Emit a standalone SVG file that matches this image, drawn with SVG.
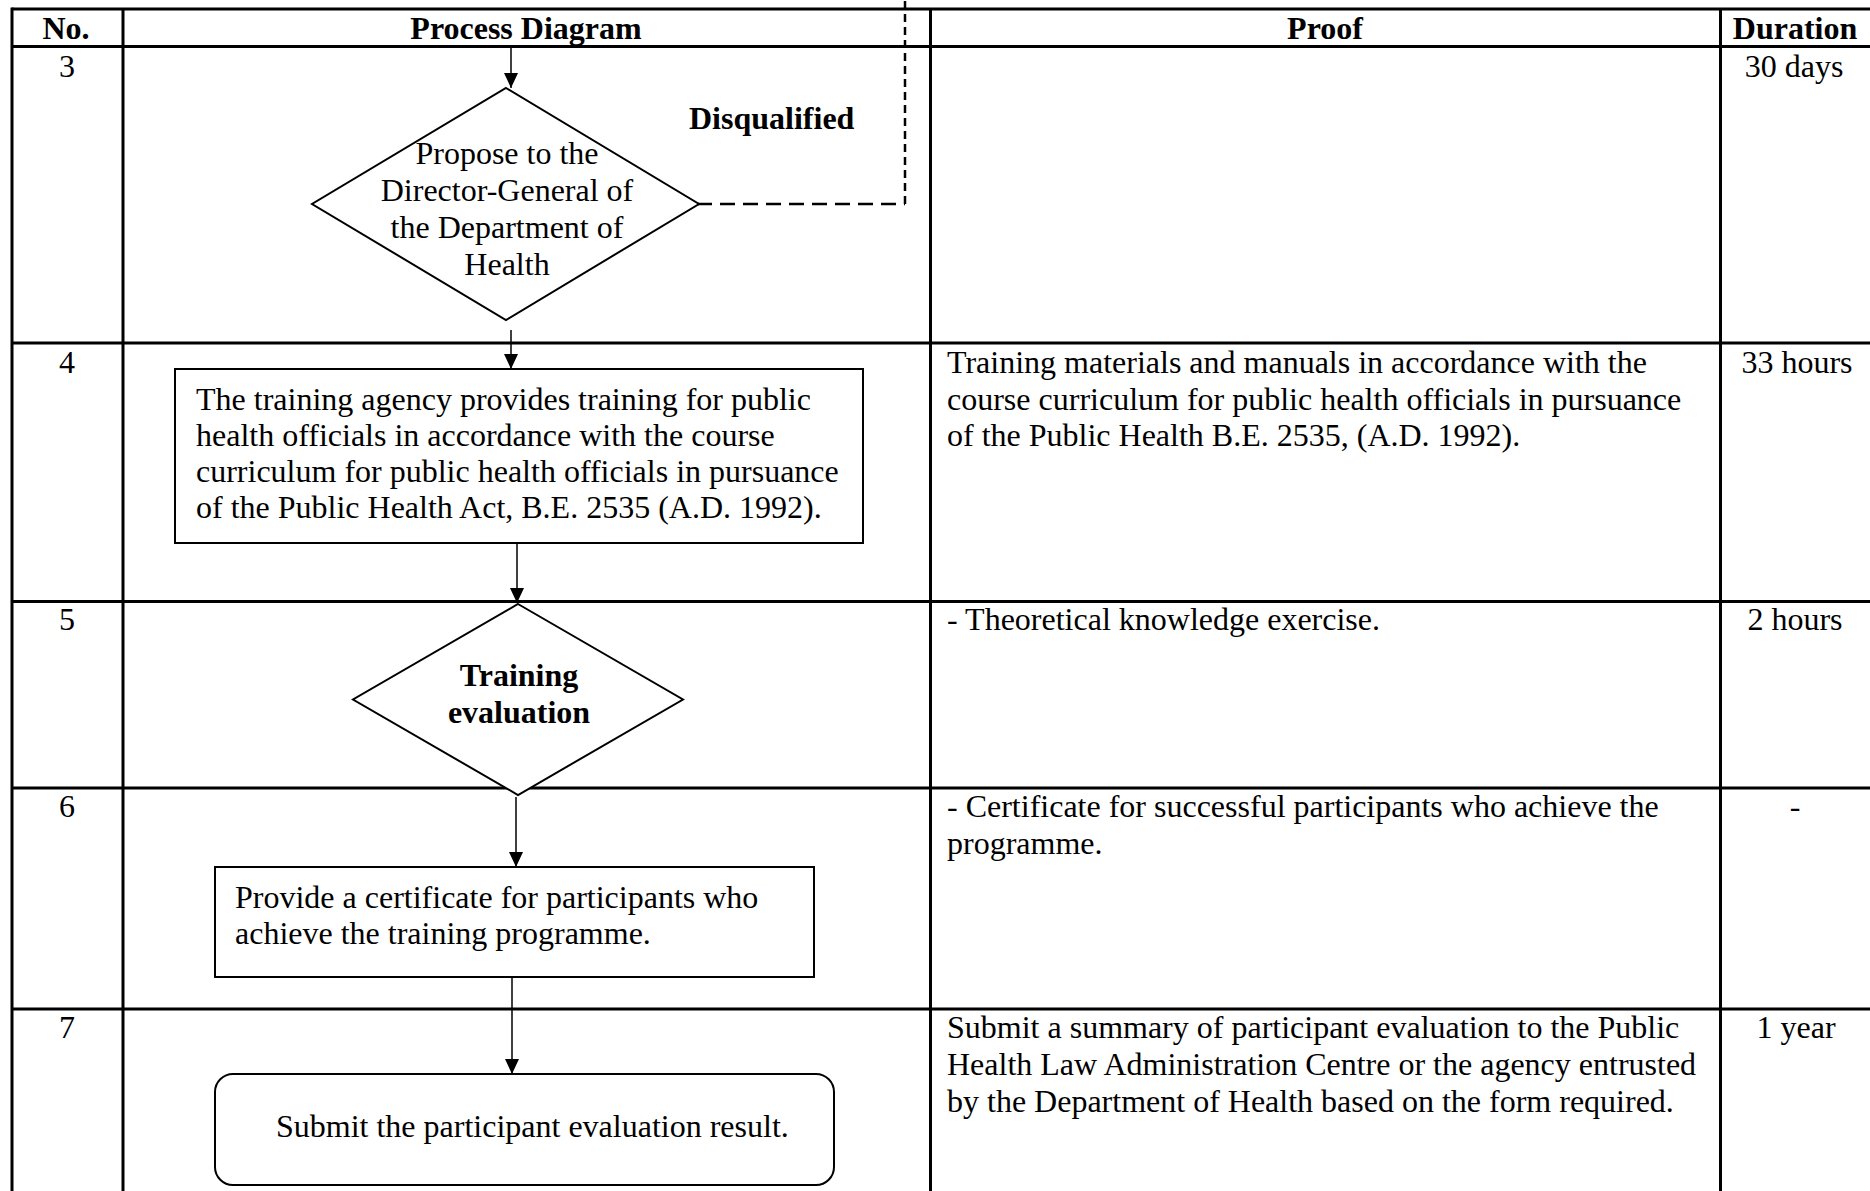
<svg xmlns="http://www.w3.org/2000/svg" width="1870" height="1191" viewBox="0 0 1870 1191">
<style>
text{font-family:"Liberation Serif","Times New Roman",serif;font-size:32px;fill:#000}
.b{font-weight:bold}
.c{text-anchor:middle}
.grid{stroke:#000;stroke-width:3;fill:none}
.node{fill:#fff;stroke:#000;stroke-width:2}
.conn{stroke:#000;stroke-width:1.5;fill:none}
.dash{stroke:#000;stroke-width:2.5;fill:none}
</style>
<defs>
<marker id="ah" markerUnits="userSpaceOnUse" markerWidth="15" markerHeight="14" refX="15" refY="7" orient="auto">
<path d="M0,0 L15,7 L0,14 z" fill="#000"/>
</marker>
</defs>
<rect x="0" y="0" width="1870" height="1191" fill="#fff"/>

<g id="table">
<path class="grid" d="M12,9 H1870 M12,46.5 H1870 M12,343 H1870 M12,601.5 H1870 M12,788 H1870 M12,1009 H1870"/>
<path class="grid" d="M12,7.5 V1191 M123,9 V1191 M930.5,9 V1191 M1720.5,9 V1191"/>
<text class="b c" x="66" y="39">No.</text>
<text class="b c" x="526" y="39">Process Diagram</text>
<text class="b c" x="1325" y="39">Proof</text>
<text class="b c" x="1795" y="39">Duration</text>
<text class="c" x="67" y="77">3</text>
<text class="c" x="1794" y="77">30 days</text>
<text class="c" x="67" y="373">4</text>
<text x="947" y="373">Training materials and manuals in accordance with the</text>
<text x="947" y="409.5">course curriculum for public health officials in pursuance</text>
<text x="947" y="446">of the Public Health B.E. 2535, (A.D. 1992).</text>
<text class="c" x="1797" y="373">33 hours</text>
<text class="c" x="67" y="630">5</text>
<text x="947" y="630">- Theoretical knowledge exercise.</text>
<text class="c" x="1795" y="630">2 hours</text>
<text class="c" x="67" y="817">6</text>
<text x="947" y="817">- Certificate for successful participants who achieve the</text>
<text x="947" y="853.5">programme.</text>
<text class="c" x="1795" y="817">-</text>
<text class="c" x="67" y="1038">7</text>
<text x="947" y="1038">Submit a summary of participant evaluation to the Public</text>
<text x="947" y="1075">Health Law Administration Centre or the agency entrusted</text>
<text x="947" y="1112">by the Department of Health based on the form required.</text>
<text class="c" x="1796" y="1038">1 year</text>
</g>

<g id="connectors">
<path class="conn" d="M511,48 V88" marker-end="url(#ah)"/>
<path class="conn" d="M511,330 V369" marker-end="url(#ah)"/>
<path class="conn" d="M517,543 V603" marker-end="url(#ah)"/>
<path class="conn" d="M516,797 V867" marker-end="url(#ah)"/>
<path class="conn" d="M512,977 V1074" marker-end="url(#ah)"/>
<path class="dash" d="M697,204 H905" stroke-dasharray="15 8"/>
<path class="dash" d="M905,204 V0" stroke-dasharray="8 5"/>
<text class="b" x="689" y="129">Disqualified</text>
</g>

<g id="node-propose">
<polygon class="node" points="506,88 699,204 506,320 312,204"/>
<text class="c" x="507" y="164">Propose to the</text>
<text class="c" x="507" y="201">Director-General of</text>
<text class="c" x="507" y="238">the Department of</text>
<text class="c" x="507" y="275">Health</text>
</g>

<g id="node-training">
<rect class="node" x="175" y="369" width="688" height="174"/>
<text x="196" y="409.5">The training agency provides training for public</text>
<text x="196" y="445.5">health officials in accordance with the course</text>
<text x="196" y="481.5">curriculum for public health officials in pursuance</text>
<text x="196" y="517.5">of the Public Health Act, B.E. 2535 (A.D. 1992).</text>
</g>

<g id="node-evaluation">
<polygon class="node" points="518,604 683,699.5 518,795 353,699.5"/>
<text class="b c" x="519" y="686">Training</text>
<text class="b c" x="519" y="723">evaluation</text>
</g>

<g id="node-certificate">
<rect class="node" x="215" y="867" width="599" height="110"/>
<text x="235" y="908">Provide a certificate for participants who</text>
<text x="235" y="944">achieve the training programme.</text>
</g>

<g id="node-submit">
<rect class="node" x="215" y="1074" width="619" height="111" rx="18" ry="18"/>
<text x="276" y="1137">Submit the participant evaluation result.</text>
</g>
</svg>
